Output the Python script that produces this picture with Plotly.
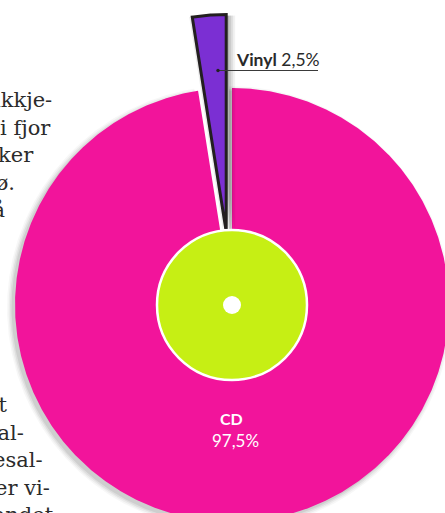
import numpy as np
import plotly.graph_objects as go

# ---------------- data ----------------
categories = ["CD", "Vinyl"]
shares = [97.5, 2.5]              # percent of sales
share_labels = ["97,5%", "2,5%"]
pulls = [0.0, 0.34]               # vinyl slice pulled out

# ---------------- styling / layout constants ----------------
W, H = 445, 513
CX, CY, R_PX = 232, 305, 217      # pie centre and radius (pixels)
colors = {"CD": "#F2149B", "Vinyl": "#7B2FD3"}
outline = {"CD": 0, "Vinyl": 3}
LIME = "#C6EF14"
INK = "#231F20"


def px_x(px):
    return (px - CX) / R_PX


def px_y(py):
    return (CY - py) / R_PX


def wedge(a0, a1, r, pull, dx=0.0, dy=0.0):
    """Polygon for a slice between angles a0..a1 (deg, clockwise from 12 o'clock)."""
    mid = np.radians((a0 + a1) / 2)
    ox = pull * np.sin(mid) + dx
    oy = pull * np.cos(mid) + dy
    n = max(int(abs(a1 - a0) * 3), 12)
    th = np.radians(np.linspace(a0, a1, n))
    xs = np.concatenate([[ox], ox + r * np.sin(th), [ox]])
    ys = np.concatenate([[oy], oy + r * np.cos(th), [oy]])
    return xs, ys


fig = go.Figure()

# slice angles from shares
total = sum(shares)
angles = []
acc = 0.0
for s in shares:
    a0 = acc / total * 360
    acc += s
    a1 = acc / total * 360
    angles.append((a0, a1))

# soft shadow under the main pie (lower-left)
a0, a1 = angles[0]
for grow, op in [(5, 0.03), (3.5, 0.045), (2, 0.06), (0.5, 0.07)]:
    xs, ys = wedge(a0, a1, 1 + grow / R_PX, 0, dx=-3 / R_PX, dy=-3 / R_PX)
    fig.add_trace(go.Scatter(x=xs, y=ys, fill="toself", mode="lines",
                             line=dict(width=0), fillcolor=f"rgba(0,0,0,{op})",
                             hoverinfo="skip", showlegend=False))

# main slices (CD first, then shadow + vinyl)
for i, cat in enumerate(categories):
    a0, a1 = angles[i]
    if cat == "Vinyl":
        for off, op in [(9, 0.05), (7, 0.07), (5, 0.09), (3, 0.12)]:
            xs, ys = wedge(a0, a1, 1, pulls[i], dx=off / R_PX, dy=-1 / R_PX)
            fig.add_trace(go.Scatter(x=xs, y=ys, fill="toself", mode="lines",
                                     line=dict(width=0),
                                     fillcolor=f"rgba(0,0,0,{op})",
                                     hoverinfo="skip", showlegend=False))
        for off, op in [(-3, 0.08), (-1.5, 0.1)]:
            xs, ys = wedge(a0, a1, 1, pulls[i], dx=off / R_PX, dy=0)
            fig.add_trace(go.Scatter(x=xs, y=ys, fill="toself", mode="lines",
                                     line=dict(width=0),
                                     fillcolor=f"rgba(0,0,0,{op})",
                                     hoverinfo="skip", showlegend=False))
    xs, ys = wedge(a0, a1, 1, pulls[i])
    fig.add_trace(go.Scatter(
        x=xs, y=ys, fill="toself", mode="lines",
        line=dict(width=outline[cat], color=INK),
        fillcolor=colors[cat], name=cat,
        hovertemplate=f"{cat}: {share_labels[i]}<extra></extra>",
        showlegend=False))

# inner "record label" disc and hole
r_in = 75 / R_PX
r_hole = 9 / R_PX
shapes = [
    dict(type="circle", xref="x", yref="y", x0=-r_in, y0=-r_in, x1=r_in, y1=r_in,
         fillcolor=LIME, line=dict(color="white", width=2.5), layer="above"),
    dict(type="circle", xref="x", yref="y", x0=-r_hole, y0=-r_hole, x1=r_hole, y1=r_hole,
         fillcolor="white", line=dict(width=0), layer="above"),
    # leader line for the vinyl label
    dict(type="line", xref="x", yref="y", x0=px_x(218), y0=px_y(70.5),
         x1=px_x(318), y1=px_y(70.5), line=dict(color="#3a3a3a", width=1.2),
         layer="above"),
    dict(type="circle", xref="x", yref="y",
         x0=px_x(216.3), y0=px_y(68.8), x1=px_x(219.7), y1=px_y(72.2),
         fillcolor="#222", line=dict(width=0), layer="above"),
]

LABEL_FONT = "Lato, 'Open Sans', sans-serif"
annotations = [
    dict(x=px_x(235), y=px_y(59.5), xref="x", yref="y", xanchor="left", yanchor="middle",
         text=f"<b>{categories[1]}</b> {share_labels[1]}", showarrow=False,
         font=dict(family=LABEL_FONT, size=17.5, color="#2a2a2a"), borderpad=0),
    dict(x=px_x(231.5), y=px_y(418), xref="x", yref="y", xanchor="center", yanchor="middle",
         text=f"<b>{categories[0]}</b>", showarrow=False,
         font=dict(family=LABEL_FONT, size=16, color="white"), borderpad=0),
    dict(x=px_x(235), y=px_y(440.5), xref="x", yref="y", xanchor="center", yanchor="middle",
         text=share_labels[0], showarrow=False,
         font=dict(family=LABEL_FONT, size=17, color="white"), borderpad=0),
]

# cropped body text of the surrounding article (left edge)
# (text, right edge px, block start centre px, line index in block)
LEAD = 27.6
body_lines = [
    ("ikkje-", 53, 100, 0), ("i fjor", 52, 100, 1), ("auker", 35, 100, 2),
    ("miljø.", 16, 100, 3), ("på", 5.5, 100, 4),
    ("at", 8.5, 405, 0), ("total-", 25, 405, 1), ("platesal-", 44, 405, 2),
    ("er vi-", 51, 405, 3), ("landet", 55, 405, 4),
]
for txt, right, start, k in body_lines:
    centre = start + LEAD * k
    annotations.append(dict(
        x=right / W, y=1 - centre / H, xref="paper", yref="paper",
        xanchor="right", yanchor="middle", text=txt, showarrow=False,
        font=dict(family="DejaVu Serif", size=21, color="#2b2b2b"), borderpad=0))

fig.update_layout(
    width=W, height=H, margin=dict(l=0, r=0, t=0, b=0),
    paper_bgcolor="white", plot_bgcolor="white",
    xaxis=dict(range=[px_x(0), px_x(W)], visible=False, fixedrange=True),
    yaxis=dict(range=[px_y(H), px_y(0)], visible=False, fixedrange=True),
    shapes=shapes, annotations=annotations, showlegend=False,
)

fig.write_html(
    "out.html",
    config={"displayModeBar": False},
    post_script="document.body.style.margin='0';document.body.style.overflow='hidden';",
)
